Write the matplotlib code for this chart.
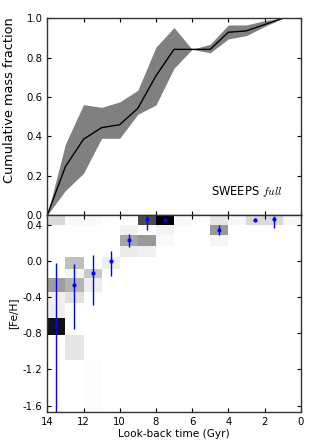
import matplotlib
matplotlib.use("Agg")
import matplotlib.pyplot as plt
import numpy as np

# ---- data ----
ages = [14, 13, 12, 11, 10, 9, 8, 7, 6, 5, 4, 3, 2, 1, 0]
cum_mass = [0.0, 0.246, 0.385, 0.444, 0.459, 0.542, 0.707, 0.842, 0.842, 0.842,
            0.929, 0.936, 0.968, 1.0, 1.0]
cum_upper = [0.0, 0.361, 0.561, 0.547, 0.575, 0.634, 0.853, 0.953, 0.842, 0.868,
             0.966, 0.966, 0.988, 1.0, 1.0]
cum_lower = [0.0, 0.124, 0.212, 0.390, 0.390, 0.512, 0.559, 0.746, 0.842, 0.825,
             0.895, 0.912, 0.958, 1.0, 1.0]

age_edges = [14, 13, 12, 11, 10, 9, 8, 7, 6, 5, 4, 3, 2, 1, 0]
feh_edges = [0.51, 0.40, 0.28, 0.165, 0.045, -0.085, -0.195, -0.34, -0.47,
             -0.635, -0.82, -1.09, -1.70]
# rows: top (metal-rich) to bottom; columns: 14-13 Gyr ... 1-0 Gyr
density = [
    [0.15, 0.02, 0.02, 0.00, 0.00, 0.70, 1.00, 0.02, 0.00, 0.10, 0.03, 0.15, 0.15, 0.03],
    [0.00, 0.00, 0.00, 0.00, 0.05, 0.00, 0.05, 0.00, 0.00, 0.40, 0.00, 0.00, 0.00, 0.00],
    [0.00, 0.00, 0.00, 0.00, 0.35, 0.40, 0.02, 0.00, 0.00, 0.04, 0.00, 0.00, 0.00, 0.00],
    [0.00, 0.00, 0.00, 0.00, 0.08, 0.06, 0.00, 0.00, 0.00, 0.00, 0.00, 0.00, 0.00, 0.00],
    [0.00, 0.25, 0.00, 0.07, 0.00, 0.00, 0.00, 0.00, 0.00, 0.00, 0.00, 0.00, 0.00, 0.00],
    [0.00, 0.04, 0.22, 0.00, 0.00, 0.00, 0.00, 0.00, 0.00, 0.00, 0.00, 0.00, 0.00, 0.00],
    [0.38, 0.30, 0.07, 0.00, 0.00, 0.00, 0.00, 0.00, 0.00, 0.00, 0.00, 0.00, 0.00, 0.00],
    [0.06, 0.12, 0.00, 0.00, 0.00, 0.00, 0.00, 0.00, 0.00, 0.00, 0.00, 0.00, 0.00, 0.00],
    [0.07, 0.00, 0.00, 0.00, 0.00, 0.00, 0.00, 0.00, 0.00, 0.00, 0.00, 0.00, 0.00, 0.00],
    [0.93, 0.00, 0.00, 0.00, 0.00, 0.00, 0.00, 0.00, 0.00, 0.00, 0.00, 0.00, 0.00, 0.00],
    [0.00, 0.10, 0.00, 0.00, 0.00, 0.00, 0.00, 0.00, 0.00, 0.00, 0.00, 0.00, 0.00, 0.00],
    [0.00, 0.00, 0.015, 0.00, 0.00, 0.00, 0.00, 0.00, 0.00, 0.00, 0.00, 0.00, 0.00, 0.00],
]

mean_age = [13.5, 12.5, 11.5, 10.5, 9.5, 8.5, 7.5, 4.5, 2.5, 1.5]
mean_feh = [-0.705, -0.264, -0.136, -0.007, 0.228, 0.46, 0.455, 0.345, 0.455, 0.46]
feh_err_up = [0.68, 0.23, 0.20, 0.117, 0.069, 0.035, 0.03, 0.055, 0.02, 0.035]
feh_err_lo = [1.10, 0.488, 0.354, 0.166, 0.078, 0.12, 0.03, 0.065, 0.02, 0.10]

yticks_top = [0.0, 0.2, 0.4, 0.6, 0.8, 1.0]
yticks_bot = [0.4, 0.0, -0.4, -0.8, -1.2, -1.6]
xticks = [14, 12, 10, 8, 6, 4, 2, 0]

# ---- style ----
plt.rcParams.update({
    "font.family": "DejaVu Sans",
    "mathtext.fontset": "cm",
    "xtick.direction": "in",
    "ytick.direction": "in",
    "xtick.top": True,
    "ytick.right": True,
    "xtick.major.size": 3,
    "ytick.major.size": 3,
    "xtick.labelsize": 7.3,
    "ytick.labelsize": 7.3,
    "axes.linewidth": 1.0,
    "axes.edgecolor": "#333333",
})

fig = plt.figure(figsize=(3.16, 4.43), dpi=100)
fig.patch.set_facecolor("white")
ax1 = fig.add_axes([0.1497, 0.5147, 0.8019, 0.444])
ax2 = fig.add_axes([0.1497, 0.0707, 0.8019, 0.444])

# top panel
ax1.fill_between(ages, cum_lower, cum_upper, color="#808080", linewidth=0)
ax1.plot(ages, cum_mass, color="black", linewidth=1.0)
ax1.set_xlim(14, 0)
ax1.set_ylim(0, 1)
ax1.set_xticks(xticks)
ax1.set_xticklabels([])
ax1.set_yticks(yticks_top)
ax1.set_yticklabels(["%.1f" % v for v in yticks_top])
ax1.set_ylabel("Cumulative mass fraction", fontsize=9.3)
ax1.yaxis.set_label_coords(-0.123, 0.585)
ax1.text(1.0, 0.12, r"SWEEPS $full$", ha="right", va="center", fontsize=8.3)

# bottom panel
X, Y = np.meshgrid(age_edges, feh_edges)
ax2.pcolormesh(X, Y, np.array(density), cmap="gray_r", vmin=0, vmax=1,
               shading="flat", edgecolors="none")
ax2.errorbar(mean_age, mean_feh, yerr=[feh_err_lo, feh_err_up], fmt="o",
             color="blue", ecolor="blue", markersize=3, elinewidth=1.0,
             capsize=0, markeredgewidth=0)
ax2.set_xlim(14, 0)
ax2.set_ylim(-1.666, 0.506)
ax2.set_xticks(xticks)
ax2.set_xticklabels([str(v) for v in xticks])
ax2.set_yticks(yticks_bot)
ax2.set_yticklabels(["%.1f" % v for v in yticks_bot])
ax2.set_xlabel("Look-back time (Gyr)", fontsize=7.6, labelpad=2)
ax2.set_ylabel("[Fe/H]", fontsize=7.6, labelpad=3)

fig.savefig("out.png", dpi=100, facecolor="white")
